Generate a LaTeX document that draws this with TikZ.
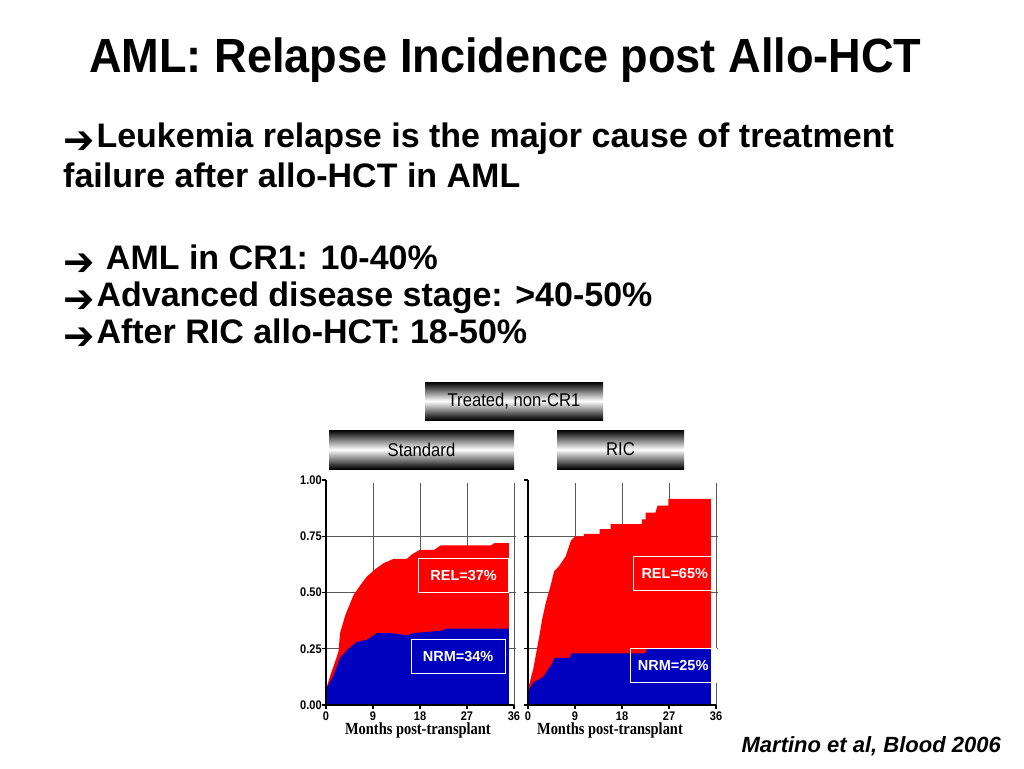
\documentclass[tikz,border=0pt]{standalone}
\usepackage{fontspec}
\setmainfont{Liberation Sans}
\newfontfamily\headfont[FakeStretch=0.94]{Liberation Sans}
\newfontfamily\bannerfont[FakeStretch=0.9]{Liberation Sans}
\newfontfamily\tickfont[FakeStretch=0.88]{Liberation Sans}
\newfontfamily\arrowfont{DejaVu Sans}
\newfontfamily\axisfont[FakeStretch=0.85]{Liberation Serif}
\newcommand{\rarr}{\raisebox{-6pt}{\scalebox{1.1}[1.15]{\arrowfont ➔}}\hspace{2pt}}

\tikzstyle{headline} = [anchor=base west, inner sep=0pt, font=\headfont\bfseries\fontsize{48}{52}\selectfont]
\tikzstyle{bullet} = [anchor=base west, inner sep=0pt, font=\bfseries\fontsize{34}{38}\selectfont]
\tikzstyle{source} = [anchor=base east, inner sep=0pt, font=\bfseries\itshape\fontsize{22}{24}\selectfont]
\tikzstyle{banner} = [rectangle, text centered, inner sep=0pt, top color=black, bottom color=black, middle color=white, font=\bannerfont\fontsize{18.5}{20}\selectfont]
\tikzstyle{gridline} = [black!65, line width=0.8pt]
\tikzstyle{axis} = [black, line width=1.2pt]
\tikzstyle{rel} = [fill=red]
\tikzstyle{nrm} = [fill=blue!75!black]
\tikzstyle{pctbox} = [rectangle, draw=white, line width=0.6pt, text=white, inner sep=0pt, minimum height=34pt, font=\bfseries\fontsize{14.5}{16}\selectfont]
\tikzstyle{ticklabel} = [inner sep=0pt, font=\tickfont\bfseries\fontsize{12.5}{13}\selectfont]
\tikzstyle{axistitle} = [anchor=base, inner sep=0pt, font=\axisfont\bfseries\fontsize{17}{18}\selectfont]

\begin{document}
\begin{tikzpicture}[x=1pt, y=-1pt]

\useasboundingbox (0,0) rectangle (1024,768);

% text of the slide
\node (head) [headline] at (89,72) {AML: Relapse Incidence post Allo-HCT};
\node (b1) [bullet] at (63,147) {\rarr Leukemia relapse is the major cause of treatment};
\node (b1b) [bullet] at (63,187) {failure after allo-HCT in AML};
\node (b2) [bullet] at (63,269) {\rarr\ AML in CR1: 10-40\%};
\node (b3) [bullet] at (63,306) {\rarr Advanced disease stage: >40-50\%};
\node (b4) [bullet] at (63,343) {\rarr After RIC allo-HCT: 18-50\%};
\node (src) [source] at (1001,752) {Martino et al, Blood 2006};

% banners
\node (noncr) [banner, minimum width=178pt, minimum height=38pt] at (514,401) {Treated, non-CR1};
\node (std) [banner, minimum width=185pt, minimum height=39pt] at (421.5,449.5) {Standard};
\node (ric) [banner, minimum width=127pt, minimum height=39pt] at (620.5,449.5) {RIC};

% standard conditioning
\begin{scope}[shift={(326,705)}, x=5.222pt, y=225pt]
\foreach \m in {9,18,27,36}
  \draw [gridline] (\m,0) -- (\m,0.985);
\foreach \p in {0.25,0.5,0.75}
  \draw [gridline] (0,\p) -- (36.3,\p);
\fill [rel] (0,0) -- (0,0.07) -- (0.8,0.13) -- (2,0.21) -- (2.4,0.24) -- (2.7,0.32) -- (3.7,0.40)
  -- (5.3,0.49) -- (6.5,0.53) -- (7.8,0.57) -- (9.5,0.605) -- (11,0.63) -- (13,0.65) -- (15.5,0.65)
  -- (16.5,0.67) -- (18,0.69) -- (20.7,0.69) -- (22,0.71) -- (31.6,0.71) -- (32.3,0.72) -- (35,0.72) -- (35,0) -- cycle;
\fill [nrm] (0,0) -- (0,0.07) -- (1.4,0.13) -- (2.7,0.21) -- (4.3,0.25) -- (5.9,0.28) -- (7.8,0.29)
  -- (9.8,0.32) -- (12.3,0.32) -- (15.5,0.31) -- (16.8,0.32) -- (22,0.33) -- (23.3,0.34) -- (35,0.34) -- (35,0) -- cycle;
\draw [axis] (0,1) -- (0,0) -- (36,0);
\foreach \p in {0.00,0.25,0.50,0.75,1.00} {
  \draw [axis] (-0.8,\p) -- (0,\p);
  \node [ticklabel, anchor=east] at (-0.8,\p) {\p};
}
\foreach \m in {0,9,18,27,36} {
  \draw [axis] (\m,0) -- (\m,-0.018);
  \node [ticklabel, anchor=base] at (\m,-0.068) {\m};
}
\node (stdrel) [pctbox, minimum width=90pt] at (26.35,0.575) {REL=37\%};
\node (stdnrm) [pctbox, minimum width=94pt] at (25.3,0.215) {NRM=34\%};
\node (stdx) [axistitle] at (17.6,-0.133) {Months post-transplant};
\end{scope}

% reduced intensity conditioning
\begin{scope}[shift={(528,705)}, x=5.222pt, y=225pt]
\foreach \m in {9,18,27,36}
  \draw [gridline] (\m,0) -- (\m,0.985);
\foreach \p in {0.25,0.5,0.75}
  \draw [gridline] (0,\p) -- (36.3,\p);
\fill [rel] (0,0) -- (0,0.07) -- (1,0.16) -- (2.2,0.31) -- (2.7,0.38) -- (3.4,0.454) -- (4.3,0.528)
  -- (5,0.594) -- (5.9,0.616) -- (7.2,0.66) -- (8.2,0.73) -- (9,0.75) -- (10.7,0.75) -- (10.7,0.761)
  -- (13.7,0.761) -- (13.7,0.782) -- (15.8,0.782) -- (15.8,0.804) -- (21.8,0.804) -- (21.8,0.825)
  -- (22.5,0.825) -- (22.5,0.855) -- (24.4,0.855) -- (24.8,0.886) -- (26.9,0.886) -- (26.9,0.916)
  -- (35,0.916) -- (35,0) -- cycle;
\fill [nrm] (0,0) -- (0,0.06) -- (1,0.10) -- (2.9,0.125) -- (4.5,0.18) -- (5.1,0.21) -- (8,0.21)
  -- (8.3,0.23) -- (22.5,0.23) -- (22.8,0.25) -- (35,0.25) -- (35,0) -- cycle;
\draw [axis] (0,1) -- (0,0) -- (36,0);
\foreach \p in {0,0.25,0.5,0.75,1}
  \draw [axis] (-0.8,\p) -- (0,\p);
\foreach \m in {0,9,18,27,36} {
  \draw [axis] (\m,0) -- (\m,-0.018);
  \node [ticklabel, anchor=base] at (\m,-0.068) {\m};
}
\node (ricrel) [pctbox, minimum width=82pt] at (28.1,0.585) {REL=65\%};
\node (ricnrm) [pctbox, minimum width=86pt] at (27.8,0.175) {NRM=25\%};
\node (ricx) [axistitle] at (15.7,-0.133) {Months post-transplant};
\end{scope}

\end{tikzpicture}
\end{document}
